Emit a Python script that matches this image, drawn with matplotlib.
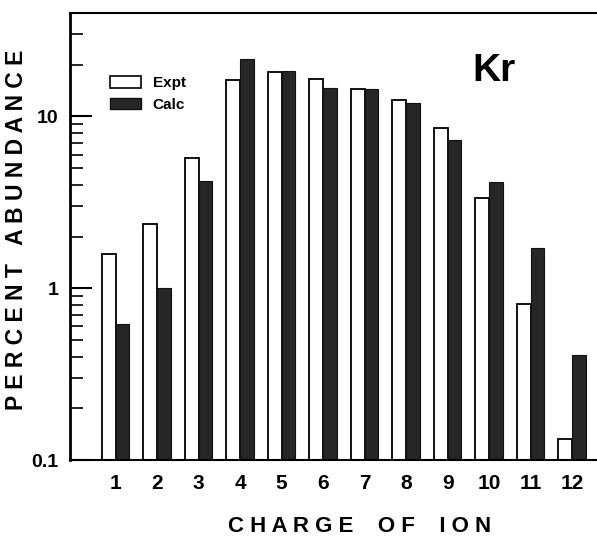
import numpy as np
import matplotlib
matplotlib.use("Agg")
import matplotlib.pyplot as plt
from matplotlib.patches import Patch
from matplotlib.ticker import LogLocator, FixedLocator, FixedFormatter, NullFormatter

charge = [1, 2, 3, 4, 5, 6, 7, 8, 9, 10, 11, 12]
expt = [1.58, 2.36, 5.7, 16.3, 18.2, 16.5, 14.5, 12.5, 8.6, 3.35, 0.81, 0.133]
calc = [0.62, 1.0, 4.2, 21.6, 18.4, 14.7, 14.4, 12.0, 7.3, 4.15, 1.71, 0.41]

plt.rcParams['font.family'] = ['Liberation Sans', 'DejaVu Sans']

fig = plt.figure(figsize=(5.97, 5.42), dpi=100)
ax = fig.add_axes([0.117, 0.151, 0.883, 0.825])

x = np.array(charge)
w = 0.33
base = 0.1
ax.bar(x - w / 2, np.array(expt) - base, width=w, bottom=base, color='white', edgecolor='black', linewidth=1.3)
ax.bar(x + w / 2, np.array(calc) - base, width=w, bottom=base, color='#262626', edgecolor='#111111', linewidth=0.8)

ax.set_yscale('log')
ax.set_ylim(0.1, 40)
ax.set_xlim(-0.1, 12.6)

ax.yaxis.set_major_locator(FixedLocator([0.1, 1, 10]))
ax.yaxis.set_major_formatter(FixedFormatter(['0.1', '1', '10']))
ax.yaxis.set_minor_locator(LogLocator(base=10, subs=np.arange(2, 10)))
ax.yaxis.set_minor_formatter(NullFormatter())
ax.tick_params(axis='y', which='major', direction='in', length=16, width=1.5, pad=8,
               labelsize=14)
ax.tick_params(axis='y', which='minor', direction='in', length=9, width=1.2)
ax.set_xticks(charge)
ax.tick_params(axis='x', length=0, pad=10, labelsize=15)
for lab in ax.get_xticklabels() + ax.get_yticklabels():
    lab.set_fontweight('bold')

ax.spines['right'].set_visible(False)
ax.spines['left'].set_linewidth(2)
ax.spines['top'].set_linewidth(1.5)
ax.spines['bottom'].set_linewidth(1.5)

ax.set_ylabel('P E R C E N T   A B U N D A N C E', fontsize=16.5, fontweight='bold')
ax.set_xlabel('C H A R G E    O F    I O N', fontsize=16, fontweight='bold')
ax.yaxis.set_label_coords(-0.08, 0.515)
ax.xaxis.set_label_coords(0.55, -0.125)

ax.text(0.805, 0.87, 'Kr', transform=ax.transAxes, fontsize=28, fontweight='bold', ha='center', va='center')

handles = [Patch(facecolor='white', edgecolor='black', linewidth=1.2, label='Expt'),
           Patch(facecolor='#262626', edgecolor='#111111', label='Calc')]
leg = ax.legend(handles=handles, loc='upper left', bbox_to_anchor=(0.05, 0.89), frameon=False,
                handlelength=2.0, handleheight=0.8, handletextpad=0.8, labelspacing=0.5,
                prop={'size': 11, 'weight': 'bold'})

fig.savefig('out.png', dpi=100)
